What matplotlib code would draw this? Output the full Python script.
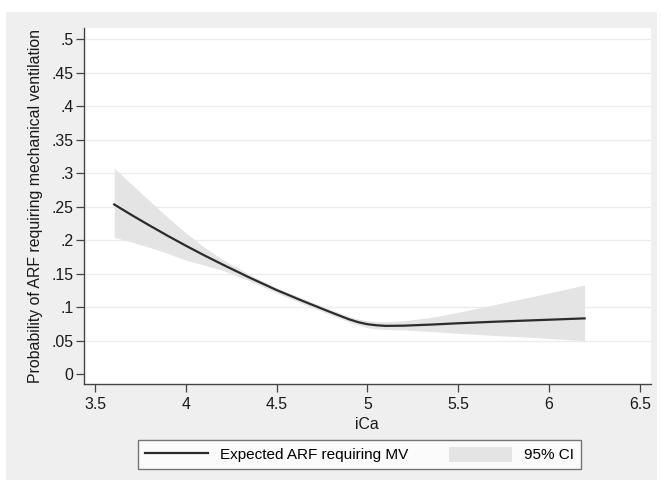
import matplotlib

matplotlib.use("Agg")
import matplotlib.pyplot as plt
from matplotlib.lines import Line2D
from matplotlib.patches import Patch, Rectangle

# values (iCa vs predicted probability, with 95% CI)
ica = [3.606, 3.7, 3.8, 3.9, 4.0, 4.1, 4.2, 4.35, 4.5, 4.65, 4.8, 4.9, 4.95,
       5.0, 5.05, 5.1, 5.2, 5.35, 5.5, 5.7, 5.9, 6.05, 6.196]
expected = [0.2535, 0.238, 0.2222, 0.2068, 0.1920, 0.1778, 0.1642, 0.1445,
            0.1258, 0.1088, 0.0925, 0.0820, 0.0778, 0.0748, 0.0732, 0.0723,
            0.0726, 0.0742, 0.0762, 0.0785, 0.0805, 0.0820, 0.0835]
ci_low = [0.2045, 0.1975, 0.1895, 0.1805, 0.1705, 0.1630, 0.1555, 0.1395,
          0.1215, 0.1045, 0.0885, 0.0780, 0.0735, 0.0695, 0.0678, 0.0670,
          0.0662, 0.0640, 0.0612, 0.0580, 0.0552, 0.0527, 0.0502]
ci_high = [0.3075, 0.284, 0.259, 0.2345, 0.211, 0.190, 0.172, 0.149, 0.129,
           0.1125, 0.0965, 0.0862, 0.0825, 0.0800, 0.0788, 0.0785, 0.0800,
           0.0850, 0.0925, 0.1040, 0.1155, 0.1245, 0.1333]

xticks = [3.5, 4, 4.5, 5, 5.5, 6, 6.5]
xtick_labels = ["3.5", "4", "4.5", "5", "5.5", "6", "6.5"]
yticks = [0, 0.05, 0.1, 0.15, 0.2, 0.25, 0.3, 0.35, 0.4, 0.45, 0.5]
ytick_labels = ["0", ".05", ".1", ".15", ".2", ".25", ".3", ".35", ".4", ".45", ".5"]

INK = "#2b2b2b"
BAND = "#e4e4e4"
BG = "#efefef"
FS = 11.4

plt.rcParams.update({
    "font.family": ["Liberation Sans", "DejaVu Sans"],
    "font.size": FS,
})

W, H = 661, 486
fig = plt.figure(figsize=(W / 100, H / 100), dpi=100, facecolor="white")
fig.patches.append(Rectangle((6 / W, 1 - 480 / H), 651 / W, 468 / H,
                             transform=fig.transFigure, facecolor=BG,
                             edgecolor="none", zorder=-10))

ax = fig.add_axes([84 / W, 1 - 384.3 / H, 566.7 / W, 356.3 / H])
ax.set_facecolor("white")

ax.fill_between(ica, ci_low, ci_high, color=BAND, linewidth=0, zorder=2)
ax.plot(ica, expected, color=INK, linewidth=1.6, zorder=3,
        solid_joinstyle="round")

ax.set_xlim(3.4394, 6.560)
ax.set_ylim(-0.0149, 0.5169)
ax.set_xticks(xticks)
ax.set_xticklabels(xtick_labels)
ax.set_yticks(yticks)
ax.set_yticklabels(ytick_labels)

for v in yticks[1:]:
    ax.axhline(v, color="#ececec", linewidth=1.0, zorder=1)

for side in ("top", "right"):
    ax.spines[side].set_visible(False)
for side in ("left", "bottom"):
    ax.spines[side].set_color("#444444")
    ax.spines[side].set_linewidth(1.0)
ax.tick_params(axis="both", direction="out", length=5.5, width=0.9,
               color="#444444", labelcolor="#1a1a1a", labelsize=FS)
ax.tick_params(axis="x", pad=4)
ax.tick_params(axis="y", pad=2)

ax.set_xlabel("iCa", fontsize=FS, labelpad=3, color="#1a1a1a")
ax.set_ylabel("Probability of ARF requiring mechanical ventilation",
              fontsize=FS, labelpad=6, color="#1a1a1a")

handles = [
    Line2D([], [], color=INK, linewidth=1.6),
    Patch(facecolor=BAND, edgecolor="none"),
]
labels = ["Expected ARF requiring MV", "95% CI"]
leg = fig.legend(handles, labels, ncol=2, loc="center",
                 bbox_to_anchor=(359.5 / W, 1 - 454.5 / H),
                 frameon=True, fancybox=False, edgecolor="#555555",
                 handlelength=4.1, handleheight=1.15, handletextpad=0.8,
                 columnspacing=2.7, borderpad=0.42, fontsize=11)
leg.get_frame().set_linewidth(1.0)
leg.get_frame().set_facecolor("white")

fig.savefig("out.png", dpi=100, facecolor="white")
